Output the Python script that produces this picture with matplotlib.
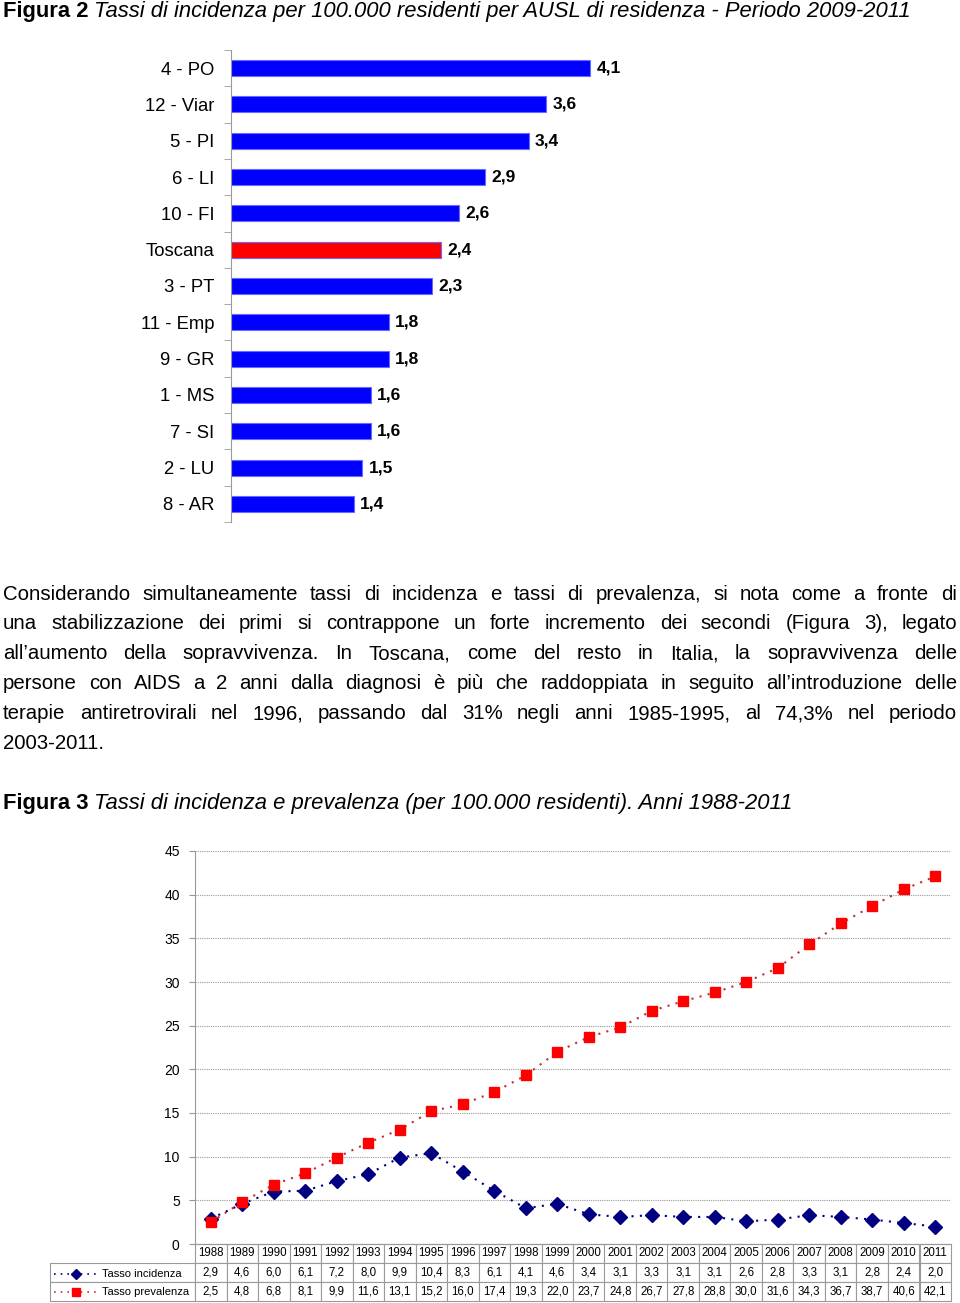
import matplotlib
matplotlib.use("Agg")
import matplotlib.pyplot as plt
from matplotlib.table import Table
from matplotlib.lines import Line2D

plt.rcParams['font.family'] = ['Liberation Sans', 'DejaVu Sans']

# --- Figura 2 data ---
ausl = ["4 - PO", "12 - Viar", "5 - PI", "6 - LI", "10 - FI", "Toscana", "3 - PT",
        "11 - Emp", "9 - GR", "1 - MS", "7 - SI", "2 - LU", "8 - AR"]
tassi_ausl = [4.1, 3.6, 3.4, 2.9, 2.6, 2.4, 2.3, 1.8, 1.8, 1.6, 1.6, 1.5, 1.4]

# --- Figura 3 data ---
anni = [1988, 1989, 1990, 1991, 1992, 1993, 1994, 1995, 1996, 1997, 1998, 1999,
        2000, 2001, 2002, 2003, 2004, 2005, 2006, 2007, 2008, 2009, 2010, 2011]
incidenza = [2.9, 4.6, 6.0, 6.1, 7.2, 8.0, 9.9, 10.4, 8.3, 6.1, 4.1, 4.6,
             3.4, 3.1, 3.3, 3.1, 3.1, 2.6, 2.8, 3.3, 3.1, 2.8, 2.4, 2.0]
prevalenza = [2.5, 4.8, 6.8, 8.1, 9.9, 11.6, 13.1, 15.2, 16.0, 17.4, 19.3, 22.0,
              23.7, 24.8, 26.7, 27.8, 28.8, 30.0, 31.6, 34.3, 36.7, 38.7, 40.6, 42.1]
serie_labels = ["Tasso incidenza", "Tasso prevalenza"]

paragrafo = [
    "Considerando simultaneamente tassi di incidenza e tassi di prevalenza, si nota come a fronte di",
    "una stabilizzazione dei primi si contrappone un forte incremento dei secondi (Figura 3), legato",
    "all\u2019aumento della sopravvivenza. In Toscana, come del resto in Italia, la sopravvivenza delle",
    "persone con AIDS a 2 anni dalla diagnosi \u00e8 pi\u00f9 che raddoppiata in seguito all\u2019introduzione delle",
    "terapie antiretrovirali nel 1996, passando dal 31% negli anni 1985-1995, al 74,3% nel periodo",
    "2003-2011.",
]

W, H = 960, 1303
fig = plt.figure(figsize=(W / 100, H / 100), dpi=100)
fig.patch.set_facecolor("white")


def fx(px):
    return px / W


def fy(py):
    return 1 - py / H


def fmt(v):
    return f"{v:.1f}".replace(".", ",")


fig.canvas.draw()
rend = fig.canvas.get_renderer()


def titolo(y, bold, italic, size=15.8):
    t1 = fig.text(fx(3), fy(y), bold, fontsize=size, fontweight="bold", va="center")
    w = t1.get_window_extent(rend).width
    fig.text(fx(3 + w + 5), fy(y), italic, fontsize=size, fontstyle="italic", va="center")


titolo(12, "Figura 2", "Tassi di incidenza per 100.000 residenti per AUSL di residenza - Periodo 2009-2011")
titolo(804, "Figura 3", "Tassi di incidenza e prevalenza (per 100.000 residenti). Anni 1988-2011")

# --- bar chart ---
ax1 = fig.add_axes([fx(231), fy(522), fx(438), 472 / H])
pos = list(range(len(ausl)))
colori = ["#ff0000" if a == "Toscana" else "#0000ff" for a in ausl]
ax1.barh(pos, tassi_ausl, height=0.44, color=colori, edgecolor="#6a6aff", linewidth=0.8)
for p, v in zip(pos, tassi_ausl):
    ax1.text(v + 0.07, p, fmt(v), fontsize=12.5, fontweight="bold", va="center")
ax1.set_ylim(len(ausl) - 0.5, -0.5)
ax1.set_xlim(0, 5)
ax1.set_yticks(pos)
ax1.set_yticklabels(ausl, fontsize=13.3)
ax1.set_yticks([p - 0.5 for p in range(len(ausl) + 1)], minor=True)
ax1.tick_params(axis="y", which="major", length=0, pad=12)
ax1.tick_params(axis="y", which="minor", length=5, color="#999999")
ax1.set_xticks([])
for s in ["top", "right", "bottom"]:
    ax1.spines[s].set_visible(False)
ax1.spines["left"].set_color("#999999")

# --- justified paragraph ---
for i, riga in enumerate(paragrafo):
    y = 594 + 30 * i
    parole = riga.split(" ")
    ts = [fig.text(0, fy(y), p, fontsize=14.7, va="center") for p in parole]
    ws = [t.get_window_extent(rend).width for t in ts]
    if i == len(paragrafo) - 1 or len(parole) == 1:
        gap = 4.5
    else:
        gap = (957 - 3 - sum(ws)) / (len(parole) - 1)
    x = 3
    for t, w in zip(ts, ws):
        t.set_x(fx(x))
        x += w + gap

# --- line chart ---
AXW, AXH = 756, 393
ax2 = fig.add_axes([fx(195), fy(1244), fx(AXW), AXH / H])
xs = list(range(len(anni)))
ax2.plot(xs, incidenza, linestyle=(0, (1, 3)), color="#000080", linewidth=1.5,
         marker="D", markersize=7, markerfacecolor="#000080", markeredgecolor="#000080")
ax2.plot(xs, prevalenza, linestyle=(0, (1, 3)), color="#c03030", linewidth=1.5,
         marker="s", markersize=7.5, markerfacecolor="#ff0000", markeredgecolor="#ff0000")
ax2.set_xlim(-0.5, len(anni) - 0.5)
ax2.set_ylim(0, 45)
ax2.set_yticks(range(0, 50, 5))
ax2.tick_params(axis="y", labelsize=10, length=4, color="#999999", pad=7)
ax2.set_xticks([])
ax2.grid(axis="y", linestyle=(0, (1, 1)), color="#999999", linewidth=0.8)
for s in ["top", "right"]:
    ax2.spines[s].set_visible(False)
ax2.spines["left"].set_color("#999999")
ax2.spines["bottom"].set_color("#999999")

# --- data table below the line chart (cell sizes in axes units) ---
cw, ch, lw_ = 1 / len(anni), 19 / AXH, 145 / AXW
tab = Table(ax2, bbox=[0, -3 * ch, 1, 3 * ch])
tab.auto_set_font_size(False)
righe = [incidenza, prevalenza]
for c, a in enumerate(anni):
    tab.add_cell(0, c, width=cw, height=ch, text=str(a), loc="center")
    for r, serie in enumerate(righe):
        tab.add_cell(r + 1, c, width=cw, height=ch, text=fmt(serie[c]), loc="center")
for r in range(len(righe)):
    tab.add_cell(r + 1, -1, width=lw_, height=ch, text="")
for cell in tab.get_celld().values():
    cell.set_edgecolor("#999999")
    cell.set_linewidth(0.8)
    cell.get_text().set_fontsize(8.3)
    cell.get_text().set_fontfamily(["Liberation Sans Narrow", "Liberation Sans"])
ax2.add_table(tab)

# legend keys inside the row label cells
stili = [("#000080", "D", "#000080", 5.5), ("#c03030", "s", "#ff0000", 6)]
for (lc, mk, mc, ms), lab, yk in zip(stili, serie_labels, [1274, 1292]):
    fig.add_artist(Line2D([fx(54), fx(98)], [fy(yk), fy(yk)], color=lc,
                          linestyle=(0, (1, 3)), linewidth=1.2))
    fig.add_artist(Line2D([fx(76)], [fy(yk)], marker=mk, markersize=ms,
                          color=mc, linestyle="none"))
    fig.text(fx(102), fy(yk), lab, fontsize=8, va="center",
             family=["Liberation Sans Narrow", "Liberation Sans"])

fig.savefig("out.png", dpi=100)
